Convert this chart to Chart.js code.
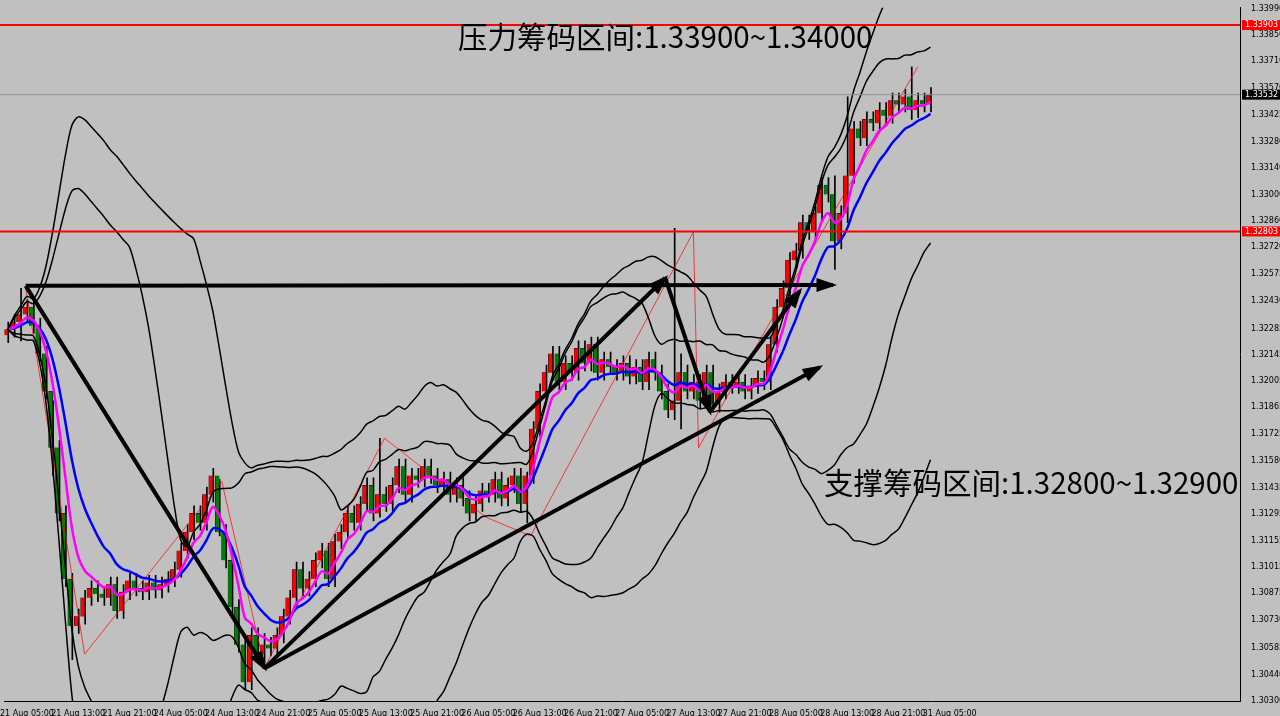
<!DOCTYPE html><html><head><meta charset="utf-8">
<script src="https://cdn.jsdelivr.net/npm/chart.js@4"></script>
<style>html,body{margin:0;background:#c0c0c0;}#w{width:1280px;height:716px;}</style></head><body>
<div id="w"><canvas id="c"></canvas></div>
<script>
const closes=[1.3228,1.3232,1.3236,1.3240,1.3230,1.3215,1.3195,1.3165,1.3130,1.3095,
1.3070,1.3075,1.3085,1.3090,1.3087,1.3085,1.3092,1.3078,1.3088,1.3094,
1.3090,1.3088,1.3093,1.3089,1.3092,1.3095,1.3100,1.3110,1.3120,1.3130,
1.3125,1.3140,1.3150,1.3120,1.3105,1.3080,1.3060,1.3040,1.3065,1.3055,
1.3060,1.3058,1.3065,1.3075,1.3085,1.3100,1.3090,1.3095,1.3105,1.3110,
1.3095,1.3115,1.3120,1.3130,1.3125,1.3135,1.3145,1.3130,1.3140,1.3135,
1.3145,1.3155,1.3140,1.3150,1.3148,1.3155,1.3150,1.3145,1.3148,1.3140,
1.3145,1.3138,1.3130,1.3135,1.3142,1.3140,1.3148,1.3138,1.3145,1.3150,
1.3135,1.3150,1.3175,1.3195,1.3205,1.3215,1.3200,1.3210,1.3205,1.3218,
1.3210,1.3220,1.3205,1.3212,1.3208,1.3205,1.3210,1.3203,1.3208,1.3200,
1.3212,1.3205,1.3195,1.3185,1.3190,1.3205,1.3195,1.3200,1.3190,1.3205,
1.3188,1.3195,1.3200,1.3198,1.3200,1.3195,1.3198,1.3202,1.3200,1.3220,
1.3240,1.3250,1.3265,1.3270,1.3285,1.3280,1.3290,1.3305,1.3300,1.3275,
1.3290,1.3310,1.3335,1.3330,1.3340,1.3338,1.3345,1.3342,1.3350,1.3348,
1.3352,1.3345,1.3350,1.3348,1.3353];
const firstOpen=1.3225;
const wickOverrides={2:[1.3250,1.3222],7:[1.3190,1.3150],10:[1.3098,1.3052],33:[1.3148,1.3118],40:[1.3066,1.3048],58:[1.3170,1.3128],81:[1.3152,1.3125],104:[1.3282,1.3180],105:[1.3215,1.3175],129:[1.3310,1.3260],131:[1.3352,1.3285],141:[1.3368,1.3340]};
const wickDefault=0.0004;
const xLabels=['21 Aug 05:00','21 Aug 13:00','21 Aug 21:00','24 Aug 05:00','24 Aug 13:00','24 Aug 21:00','25 Aug 05:00','25 Aug 13:00','25 Aug 21:00','26 Aug 05:00','26 Aug 13:00','26 Aug 21:00','27 Aug 05:00','27 Aug 13:00','27 Aug 21:00','28 Aug 05:00','28 Aug 13:00','28 Aug 21:00','31 Aug 05:00'];
const yTicks=[1.30300,1.30440,1.30585,1.30730,1.30875,1.31015,1.31155,1.31295,1.31435,1.31580,1.31725,1.31865,1.32005,1.32145,1.32285,1.32430,1.32575,1.32720,1.32860,1.33000,1.33140,1.33280,1.33425,1.33570,1.33710,1.33850,1.33990];
const zigzag=[[2.8,1.3250],[12,1.3055],[33.4,1.3147],[40.1,1.3048],[58.8,1.3170],[74.6,1.3128],[81.6,1.3118],[107,1.3280],[107.8,1.3165],[111.2,1.3186],[142,1.3368]];
const arrows=[[[2.8,1.32513],[40.1,1.30475]],[[40.1,1.30475],[102.6,1.32555]],[[2.8,1.32513],[128.8,1.32518]],[[102.6,1.32555],[109.6,1.31841]],[[109.6,1.31841],[123.6,1.32486]],[[40.1,1.30475],[126.7,1.32079]]];
const hLines=[[1.33903,'#ff0000'],[1.32803,'#ff0000'],[1.33532,'#909090']];

const opens=closes.map((c,i)=>i?closes[i-1]:firstOpen);
const hi=closes.map((c,i)=>wickOverrides[i]?wickOverrides[i][0]:Math.max(c,opens[i])+wickDefault);
const lo=closes.map((c,i)=>wickOverrides[i]?wickOverrides[i][1]:Math.min(c,opens[i])-wickDefault);
function ema(n){let e=closes[0];return closes.map((c,i)=>({x:i,y:(e=e+(c-e)*2/(n+1))}));}
function bb(n,k,s){return closes.map((c,i)=>{const a=closes.slice(Math.max(0,i-n+1),i+1);const m=a.reduce((p,q)=>p+q,0)/a.length;const sd=Math.sqrt(a.reduce((p,q)=>p+(q-m)**2,0)/a.length);return {x:i,y:m+s*k*sd};});}
const ds=[];
ds.push({type:'bar',data:closes.map((c,i)=>({x:i,y:[lo[i],hi[i]]})),backgroundColor:'#000',barThickness:1,order:5});
ds.push({type:'bar',data:closes.map((c,i)=>({x:i,y:[opens[i],c]})),backgroundColor:closes.map((c,i)=>c>=opens[i]?'#ff0000':'#008000'),borderColor:'#000',borderWidth:0.5,barThickness:4,order:4});
const line=(d,col,w)=>({type:'line',data:d,borderColor:col,borderWidth:w,pointRadius:0,tension:0.3,order:1});
ds.push(line(bb(20,2,1),'#000',1.5),line(bb(20,2,-1),'#000',1.5),line(bb(30,2.6,1),'#000',1.5),line(bb(30,2.6,-1),'#000',1.5));
ds.push(line(ema(5),'#ff00ff',2.5),line(ema(10),'#0000ff',2.5));
ds.push({type:'line',data:zigzag.map(p=>({x:p[0],y:p[1]})),borderColor:'#ff0000',borderWidth:0.7,pointRadius:0,order:2});
arrows.forEach(a=>ds.push({type:'line',data:a.map(p=>({x:p[0],y:p[1]})),borderColor:'#000',borderWidth:4,pointRadius:0,order:0}));

const deco={id:'deco',afterDatasetsDraw(ch){const {ctx,scales:{x,y},chartArea:ca}=ch;ctx.save();
hLines.forEach(([v,col])=>{const py=y.getPixelForValue(v);ctx.strokeStyle=col;ctx.lineWidth=col=='#ff0000'?2:1;ctx.beginPath();ctx.moveTo(0,py);ctx.lineTo(ca.right,py);ctx.stroke();
ctx.fillStyle=col=='#ff0000'?'#ff0000':'#000';ctx.fillRect(ca.right+2,py-5,38,10);ctx.fillStyle='#fff';ctx.font='8px Tahoma, DejaVu Sans';ctx.textBaseline='middle';ctx.fillText(v.toFixed(5),ca.right+5,py);});
arrows.forEach(a=>{const x1=x.getPixelForValue(a[0][0]),y1=y.getPixelForValue(a[0][1]),x2=x.getPixelForValue(a[1][0]),y2=y.getPixelForValue(a[1][1]);const an=Math.atan2(y2-y1,x2-x1);ctx.fillStyle='#000';ctx.beginPath();ctx.moveTo(x2+4*Math.cos(an),y2+4*Math.sin(an));ctx.lineTo(x2-18*Math.cos(an-0.4),y2-18*Math.sin(an-0.4));ctx.lineTo(x2-18*Math.cos(an+0.4),y2-18*Math.sin(an+0.4));ctx.closePath();ctx.fill();});
ctx.fillStyle='#000';ctx.font='29.5px "Noto Sans CJK SC"';ctx.textBaseline='middle';ctx.textAlign='left';
ctx.fillText('压力筹码区间:1.33900~1.34000',458,37);ctx.fillText('支撑筹码区间:1.32800~1.32900',824,483);
ctx.restore();}};
new Chart(document.getElementById('c'),{data:{datasets:ds},plugins:[deco],options:{responsive:true,maintainAspectRatio:false,animation:false,
layout:{padding:{left:-5,top:0}},plugins:{legend:{display:false},tooltip:{enabled:false}},
scales:{x:{type:'linear',min:-0.5,max:192.3,offset:false,grid:{display:false},border:{color:'#000'},
afterBuildTicks:s=>{s.ticks=xLabels.map((l,i)=>({value:3+8*i}));},
ticks:{autoSkip:false,maxRotation:0,color:'#000',font:{size:8,family:'Tahoma, DejaVu Sans'},padding:0,callback:(v)=>xLabels[(v-3)/8]},afterFit:s=>{s.height=15;}},
y:{type:'linear',position:'right',min:1.3030,max:1.33995,grid:{display:false},border:{color:'#000'},
afterBuildTicks:s=>{s.ticks=yTicks.map(v=>({value:v}));},
ticks:{color:'#000',font:{size:8,family:'Tahoma, DejaVu Sans'},padding:3,callback:v=>v.toFixed(5)},afterFit:s=>{s.width=40;}}}}});
</script></body></html>
